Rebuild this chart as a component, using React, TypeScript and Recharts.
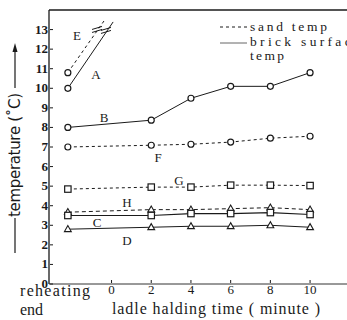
import { ComposedChart, Line, Scatter, XAxis, YAxis, ReferenceLine } from 'recharts'

// holding times (minute); -2.2 is the "reheating end" point
const times = [-2.2, 2, 4, 6, 8, 10]
const brickB = [8.0, 8.37, 9.49, 10.1, 10.1, 10.8]
const sandF = [7.0, 7.09, 7.14, 7.25, 7.45, 7.55]
const sandG = [4.85, 4.95, 4.95, 5.05, 5.05, 5.03]
const sandH = [3.67, 3.8, 3.8, 3.85, 3.9, 3.8]
const brickC = [3.5, 3.5, 3.6, 3.6, 3.65, 3.55]
const brickD = [2.8, 2.9, 2.95, 2.95, 3.0, 2.9]

// A and E run off the top of the scale
const steepTimes = [-2.2, 0.08]
const brickA = [10.0, 13.39]
const steepTimesE = [-2.2, -0.38]
const sandE = [10.8, 13.44]

const breakMarks = [
  { x: -0.28, y: 12.93 },
  { x: -0.73, y: 12.98 },
]

const curveLabels = [
  { x: -1.74, y: 12.72, label: 'E' },
  { x: -0.78, y: 10.68, label: 'A' },
  { x: -0.38, y: 8.53, label: 'B' },
  { x: 2.34, y: 6.44, label: 'F' },
  { x: 3.4, y: 5.31, label: 'G' },
  { x: 0.78, y: 4.14, label: 'H' },
  { x: -0.73, y: 3.12, label: 'C' },
  { x: 0.78, y: 2.2, label: 'D' },
]

const yTicks = [0, 1, 2, 3, 4, 5, 6, 7, 8, 9, 10, 11, 12, 13]
const xTicks = [0, 2, 4, 6, 8, 10]

const pts = (xs: number[], ys: number[]) => xs.map((x, i) => ({ x, y: ys[i] }))

const INK = '#1a1a1a'
const serifText = { fontFamily: "'Liberation Serif', 'Times New Roman', serif" }

const circle = (p: any) => (
  <circle key={p.index} cx={p.cx} cy={p.cy} r={3} fill="#fff" stroke={INK} strokeWidth={1.2} />
)
const firstCircle = (p: any) =>
  p.index === 0 ? circle(p) : <g key={p.index} />
const square = (p: any) => (
  <rect key={p.index} x={p.cx - 3.2} y={p.cy - 3.2} width={6.4} height={6.4} fill="#fff" stroke={INK} strokeWidth={1.2} />
)
const triangle = (p: any) => (
  <polygon
    key={p.index}
    points={`${p.cx},${p.cy - 3.6} ${p.cx - 3.4},${p.cy + 2.4} ${p.cx + 3.4},${p.cy + 2.4}`}
    fill="#fff"
    stroke={INK}
    strokeWidth={1.1}
  />
)

const YTick = ({ x, y, payload }: any) => (
  <g>
    <line x1={x + 1} x2={x + 4} y1={y} y2={y} stroke={INK} />
    <text x={x - 1} y={y} dy={4} textAnchor="end" fontSize={13} fontWeight="bold" style={serifText} fill={INK}>
      {payload.value}
    </text>
  </g>
)

const XTick = ({ x, y, payload }: any) => (
  <g>
    <line x1={x} x2={x} y1={y - 4} y2={y - 1} stroke={INK} />
    <text x={x} y={y + 10} textAnchor="middle" fontSize={13} style={serifText} fill={INK}>
      {payload.value}
    </text>
  </g>
)

const BreakMark = (p: any) => (
  <g>
    <line x1={p.cx - 5} y1={p.cy - 0.5} x2={p.cx + 5} y2={p.cy - 3.5} stroke={INK} strokeWidth={1} />
    <line x1={p.cx - 5} y1={p.cy + 2.5} x2={p.cx + 5} y2={p.cy - 0.5} stroke={INK} strokeWidth={1} />
  </g>
)

const Letter = (p: any) => (
  <text x={p.cx} y={p.cy} dy={4.5} textAnchor="middle" fontSize={13} style={serifText} fill={INK}>
    {p.payload.label}
  </text>
)

export default function App() {
  return (
    <div style={{ position: 'absolute', left: 0, top: 0, width: 347, height: 320, background: '#fff' }}>
      <ComposedChart width={347} height={320} margin={{ top: 10, right: 0, bottom: 35, left: 48 }}>
        <XAxis
          type="number"
          dataKey="x"
          domain={[-3.15, 11.86]}
          ticks={xTicks}
          tick={<XTick />}
          tickSize={0}
          tickMargin={0}
          height={1}
          stroke="#333"
          allowDataOverflow
        />
        <YAxis
          type="number"
          dataKey="y"
          domain={[0, 14]}
          ticks={yTicks}
          tick={<YTick />}
          tickSize={0}
          tickMargin={0}
          width={1}
          stroke={INK}
          strokeWidth={1.3}
          interval={0}
        />
        <ReferenceLine y={14} stroke={INK} strokeWidth={1.6} />

        <Line data={pts(steepTimes, brickA)} dataKey="y" stroke={INK} strokeWidth={1} dot={firstCircle} isAnimationActive={false} />
        <Line data={pts(steepTimesE, sandE)} dataKey="y" stroke={INK} strokeWidth={1} strokeDasharray="3 3" dot={firstCircle} isAnimationActive={false} />
        <Line data={pts(times, brickB)} dataKey="y" stroke={INK} strokeWidth={1} dot={circle} isAnimationActive={false} />
        <Line data={pts(times, sandF)} dataKey="y" stroke={INK} strokeWidth={1} strokeDasharray="3 3" dot={circle} isAnimationActive={false} />
        <Line data={pts(times, sandG)} dataKey="y" stroke={INK} strokeWidth={1} strokeDasharray="3 3" dot={square} isAnimationActive={false} />
        <Line data={pts(times, sandH)} dataKey="y" stroke={INK} strokeWidth={1} strokeDasharray="4 3" dot={triangle} isAnimationActive={false} />
        <Line data={pts(times, brickC)} dataKey="y" stroke={INK} strokeWidth={1.2} dot={square} isAnimationActive={false} />
        <Line data={pts(times, brickD)} dataKey="y" stroke={INK} strokeWidth={1} dot={triangle} isAnimationActive={false} />

        <Scatter data={breakMarks} dataKey="y" shape={<BreakMark />} isAnimationActive={false} />
        <Scatter data={curveLabels} dataKey="y" shape={<Letter />} isAnimationActive={false} />
      </ComposedChart>

      <svg width={347} height={320} style={{ position: 'absolute', left: 0, top: 0, pointerEvents: 'none' }}>
        {/* legend */}
        <line x1={220} x2={247} y1={27} y2={27} stroke={INK} strokeDasharray="3 3" />
        <text x={250} y={31} fontSize={13.5} style={serifText} fill={INK} textLength={77}>sand temp</text>
        <line x1={220} x2={247} y1={43} y2={43} stroke="#666" />
        <text x={250} y={46} fontSize={13.5} style={serifText} fill={INK} textLength={110}>brick surface</text>
        <text x={250} y={60} fontSize={13.5} style={serifText} fill={INK} textLength={34}>temp</text>

        {/* y axis title */}
        <line x1={15} x2={15} y1={88} y2={50} stroke={INK} strokeWidth={1.2} />
        <polygon points="15,43 12.5,52 17.5,52" fill={INK} />
        <text
          x={20}
          y={155}
          transform="rotate(-90 20 155)"
          textAnchor="middle"
          fontSize={15}
          style={{ fontFamily: "'DejaVu Sans', sans-serif" }}
          fill={INK}
          textLength={124}
        >
          temperature (˚C)
        </text>
        <line x1={15} x2={15} y1={218} y2={253} stroke={INK} strokeWidth={1.2} />

        {/* x axis titles */}
        <text x={20} y={296} fontSize={16} style={serifText} fill={INK} textLength={70}>reheating</text>
        <text x={20} y={315} fontSize={16} style={serifText} fill={INK}>end</text>
        <text x={112} y={314} fontSize={16} style={serifText} fill={INK} textLength={208}>
          ladle halding time ( minute )
        </text>
      </svg>
    </div>
  )
}
